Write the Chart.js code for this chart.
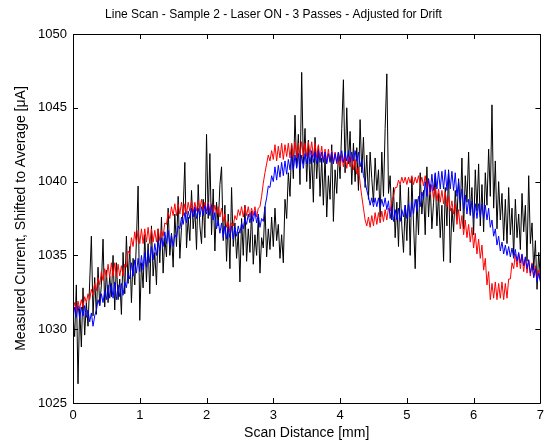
<!DOCTYPE html>
<html>
<head>
<meta charset="utf-8">
<script src="https://cdn.jsdelivr.net/npm/chart.js@4.4.0/dist/chart.umd.min.js"></script>
<style>
  body { margin: 0; background: #fff; }
  canvas { display: block; }
</style>
</head>
<body>
<canvas id="scan" width="549" height="442"></canvas>
<script>

// sample spacing along the scan (mm), same for all passes
var step = 0.025;

var xTicks = [0, 1, 2, 3, 4, 5, 6, 7];
var yTicks = [1025, 1030, 1035, 1040, 1045, 1050];

// pass 1 (black)
var black = [
  1031.0, 1029.5, 1033.0, 1026.3, 1031.5, 1028.8, 1032.8, 1029.6, 1031.8, 1030.2,
  1033.2, 1036.3, 1030.9, 1033.5, 1031.0, 1034.2, 1031.6, 1033.0, 1036.1, 1031.5,
  1034.0, 1031.8, 1033.6, 1032.2, 1035.0, 1031.3, 1034.5, 1032.0, 1033.4, 1031.0,
  1035.2, 1032.4, 1036.3, 1033.1, 1035.6, 1031.8, 1034.8, 1033.0, 1036.0, 1039.7,
  1030.6, 1034.5, 1032.8, 1036.4, 1033.2, 1035.8, 1032.4, 1037.0, 1033.6, 1035.2,
  1033.0, 1036.8, 1034.5, 1037.6, 1033.8, 1036.2, 1034.9, 1038.2, 1035.0, 1036.5,
  1034.2, 1037.8, 1035.6, 1039.0, 1034.8, 1036.9, 1038.1, 1041.3, 1035.5, 1037.6,
  1036.0, 1039.4, 1036.8, 1038.2, 1035.4, 1039.8, 1037.0, 1035.8, 1038.8, 1036.2,
  1043.2, 1037.5, 1041.9, 1036.4, 1039.5, 1035.3, 1038.6, 1037.0, 1039.8, 1041.0,
  1036.0, 1038.4, 1034.6, 1037.8, 1034.1, 1039.6, 1035.6, 1037.2, 1034.8, 1036.6,
  1033.2, 1037.5, 1035.0, 1038.4, 1034.6, 1036.8, 1035.2, 1038.0, 1034.4, 1036.4,
  1035.0, 1037.6, 1033.8, 1036.2, 1035.5, 1038.3, 1034.9, 1036.8, 1035.4, 1037.6,
  1035.6, 1038.2, 1036.0, 1037.1, 1034.8, 1036.4, 1034.5, 1038.8, 1037.5, 1040.6,
  1039.0, 1042.5, 1040.2, 1044.5, 1041.0, 1043.2, 1039.8, 1047.4, 1041.2, 1043.6,
  1040.0, 1042.8, 1039.5, 1041.8, 1038.6, 1043.0, 1040.2, 1042.4, 1039.0, 1041.6,
  1038.4, 1041.8, 1037.6, 1040.4, 1038.8, 1042.5, 1037.3, 1040.8, 1039.2, 1042.0,
  1040.2, 1043.6, 1046.9, 1040.6, 1045.0, 1041.2, 1043.4, 1039.8, 1042.6, 1040.0,
  1042.3, 1039.4, 1044.2, 1040.6, 1043.0, 1039.6, 1041.8, 1038.8, 1042.0, 1040.2,
  1038.6, 1041.6, 1039.4, 1040.8, 1037.6, 1042.0, 1039.0, 1043.6, 1047.3, 1039.2,
  1040.4, 1037.4, 1039.6, 1036.2, 1038.6, 1035.6, 1039.8, 1037.0, 1035.2, 1038.4,
  1036.0, 1039.6, 1035.0, 1040.3, 1037.2, 1034.1, 1038.8, 1036.4, 1040.6, 1037.8,
  1039.4, 1036.4, 1041.0, 1037.6, 1039.8, 1036.8, 1038.6, 1040.5, 1037.0, 1039.2,
  1036.2, 1038.4, 1034.6, 1039.6, 1037.0, 1040.8, 1034.5, 1038.2, 1036.6, 1039.4,
  1037.4, 1040.2, 1038.0, 1041.6, 1036.8, 1040.4, 1038.6, 1042.0, 1037.8, 1039.6,
  1036.4, 1040.8, 1038.0, 1041.2, 1037.0, 1039.8, 1036.6, 1040.6, 1038.4, 1042.2,
  1039.0, 1045.2, 1038.2, 1041.4, 1036.8, 1040.0, 1037.4, 1039.2, 1036.0, 1038.8,
  1035.8, 1039.6, 1036.4, 1038.2, 1035.0, 1038.8, 1036.2, 1037.8, 1035.4, 1039.2,
  1036.6, 1038.4, 1034.6, 1040.4, 1035.8, 1037.2, 1034.0, 1036.0, 1032.7, 1035.2,
  1033.4
];

// pass 2 (red)
var red = [
  1031.3, 1031.8, 1031.2, 1031.9, 1031.4, 1032.0, 1031.5, 1032.2, 1031.8, 1032.4,
  1032.0, 1032.7, 1032.3, 1033.1, 1032.6, 1033.5, 1033.0, 1033.9, 1033.3, 1034.1,
  1033.5, 1034.4, 1033.5, 1034.5, 1033.6, 1034.5, 1033.5, 1034.4, 1033.6, 1034.3,
  1033.6, 1034.4, 1034.2, 1035.3, 1035.1, 1036.2, 1035.6, 1036.6, 1035.8, 1036.7,
  1035.8, 1036.8, 1035.8, 1036.8, 1035.9, 1036.9, 1035.8, 1036.8, 1035.9, 1036.7,
  1035.9, 1036.8, 1036.0, 1036.7, 1036.3, 1037.2, 1037.1, 1037.9, 1037.5, 1038.3,
  1037.7, 1038.5, 1037.7, 1038.5, 1037.8, 1038.6, 1037.7, 1038.5, 1037.8, 1038.6,
  1038.0, 1038.7, 1037.9, 1038.6, 1038.0, 1038.7, 1038.1, 1038.8, 1038.0, 1038.6,
  1038.0, 1038.6, 1038.0, 1038.5, 1037.9, 1038.4, 1037.8, 1038.3, 1037.6, 1038.2,
  1037.3, 1037.8, 1036.9, 1037.3, 1036.6, 1037.2, 1037.0, 1037.7, 1037.4, 1038.1,
  1037.7, 1038.3, 1037.6, 1038.3, 1037.7, 1038.3, 1037.6, 1038.2, 1037.7, 1038.3,
  1037.6, 1038.2, 1038.3, 1039.0, 1039.9, 1040.6, 1041.2, 1041.8, 1041.4, 1042.1,
  1041.5, 1042.5, 1041.4, 1042.4, 1041.6, 1042.6, 1041.5, 1042.5, 1041.7, 1042.6,
  1041.6, 1042.6, 1041.7, 1042.7, 1041.6, 1042.6, 1041.8, 1042.7, 1041.7, 1042.6,
  1041.7, 1042.7, 1041.8, 1042.7, 1041.7, 1042.6, 1041.6, 1042.5, 1041.5, 1042.4,
  1041.4, 1042.2, 1041.3, 1042.2, 1041.4, 1042.1, 1041.3, 1042.0, 1041.2, 1042.0,
  1041.0, 1041.8, 1041.0, 1041.8, 1040.9, 1041.7, 1041.0, 1041.7, 1040.8, 1041.5,
  1040.5, 1041.0, 1039.9, 1039.0, 1038.2, 1037.4, 1037.0, 1037.6, 1036.9, 1037.7,
  1037.0, 1037.9, 1037.1, 1037.9, 1037.2, 1038.0, 1037.3, 1038.1, 1037.4, 1038.2,
  1038.0, 1038.7, 1039.0, 1039.6, 1039.6, 1040.1, 1039.8, 1040.3, 1039.9, 1040.3,
  1039.8, 1040.3, 1039.9, 1040.4, 1039.8, 1040.3, 1039.9, 1040.4, 1039.8, 1040.3,
  1039.7, 1040.4, 1039.5, 1040.2, 1039.1, 1039.8, 1038.8, 1039.6, 1038.7, 1039.5,
  1038.6, 1039.4, 1038.5, 1039.3, 1038.3, 1039.0, 1038.0, 1038.7, 1037.8, 1038.5,
  1037.1, 1038.1, 1036.8, 1037.7, 1036.4, 1037.4, 1036.2, 1037.1, 1035.9, 1036.9,
  1035.5, 1036.5, 1035.1, 1036.1, 1034.8, 1035.7, 1034.0, 1034.8, 1033.0, 1033.9,
  1032.0, 1033.1, 1032.1, 1033.2, 1032.0, 1033.1, 1032.1, 1033.2, 1032.0, 1033.1,
  1032.1, 1033.4, 1033.4, 1034.5, 1034.1, 1035.1, 1034.2, 1035.1, 1034.1, 1035.0,
  1033.9, 1034.9, 1033.8, 1034.7, 1033.6, 1034.5, 1033.5, 1034.3, 1033.3, 1034.0,
  1033.3
];

// pass 3 (blue)
var blue = [
  1030.7, 1031.5, 1030.8, 1031.6, 1030.7, 1031.5, 1030.9, 1031.6, 1030.8, 1031.3,
  1030.5, 1031.1, 1030.2, 1030.9, 1031.3, 1032.0, 1031.6, 1032.4, 1031.8, 1032.6,
  1032.0, 1033.0, 1032.1, 1033.1, 1032.1, 1033.2, 1032.0, 1033.0, 1032.2, 1033.1,
  1032.3, 1033.2, 1032.8, 1033.8, 1033.4, 1034.5, 1033.6, 1034.7, 1033.8, 1034.8,
  1033.9, 1035.0, 1034.0, 1035.2, 1034.2, 1035.4, 1034.5, 1035.6, 1034.7, 1035.8,
  1035.0, 1036.0, 1035.3, 1036.2, 1035.6, 1036.6, 1035.8, 1036.7, 1035.6, 1036.4,
  1035.6, 1036.4, 1036.2, 1037.0, 1036.8, 1037.6, 1037.1, 1037.9, 1037.2, 1038.0,
  1037.5, 1038.2, 1037.6, 1038.3, 1037.5, 1038.2, 1037.6, 1038.3, 1037.7, 1038.4,
  1037.8, 1038.5, 1037.7, 1038.4, 1037.4, 1037.9, 1036.8, 1037.4, 1036.5, 1037.2,
  1036.2, 1037.0, 1036.1, 1036.9, 1036.2, 1037.0, 1036.1, 1036.9, 1036.3, 1037.0,
  1036.5, 1037.2, 1036.8, 1037.5, 1037.1, 1037.8, 1037.2, 1037.9, 1037.3, 1038.0,
  1037.2, 1037.8, 1036.9, 1037.5, 1037.3, 1038.3, 1038.9, 1039.7, 1039.6, 1040.4,
  1040.0, 1041.0, 1040.1, 1041.1, 1040.3, 1041.3, 1040.4, 1041.4, 1040.5, 1041.5,
  1040.8, 1041.8, 1040.8, 1041.8, 1040.9, 1041.9, 1040.8, 1041.8, 1040.9, 1041.9,
  1041.2, 1042.0, 1041.2, 1042.1, 1041.3, 1042.0, 1041.2, 1042.1, 1041.3, 1042.0,
  1041.3, 1042.0, 1041.2, 1041.9, 1041.3, 1042.0, 1041.2, 1041.9, 1041.3, 1042.0,
  1041.4, 1042.1, 1041.3, 1042.0, 1041.4, 1042.1, 1041.3, 1042.0, 1041.4, 1042.1,
  1041.4, 1042.0, 1041.0, 1041.5, 1040.4, 1040.0, 1039.4, 1039.0, 1038.4, 1038.9,
  1038.3, 1038.9, 1038.3, 1038.9, 1038.2, 1038.8, 1038.3, 1038.9, 1038.1, 1038.7,
  1037.5, 1038.3, 1037.3, 1038.1, 1037.4, 1038.2, 1037.3, 1038.1, 1037.6, 1038.4,
  1037.5, 1038.5, 1037.6, 1038.6, 1037.8, 1038.8, 1038.0, 1039.0, 1038.3, 1039.3,
  1038.8, 1040.0, 1039.0, 1040.2, 1039.3, 1040.5, 1039.4, 1040.6, 1039.5, 1040.7,
  1039.5, 1040.7, 1039.5, 1040.8, 1039.4, 1040.7, 1039.5, 1040.7, 1039.4, 1040.6,
  1039.0, 1040.0, 1038.6, 1039.5, 1038.1, 1039.1, 1037.8, 1038.8, 1037.7, 1038.7,
  1037.5, 1038.5, 1037.5, 1038.5, 1037.6, 1038.5, 1037.5, 1038.4, 1037.4, 1038.2,
  1036.9, 1037.4, 1036.3, 1036.8, 1035.7, 1036.3, 1035.3, 1035.9, 1035.1, 1035.7,
  1035.0, 1035.6, 1034.9, 1035.5, 1034.8, 1035.4, 1034.6, 1035.2, 1034.5, 1035.1,
  1034.3, 1034.9, 1034.1, 1034.7, 1033.8, 1034.4, 1033.5, 1034.1, 1033.2, 1033.8,
  1033.2
];

function toPoints(vals) {
  var pts = [];
  for (var i = 0; i < vals.length; i++) {
    pts.push({x: +(i * step).toFixed(3), y: vals[i]});
  }
  return pts;
}

var font = "'Liberation Sans', Arial, Helvetica, sans-serif";

// matlab style box with inward ticks on all four sides
var boxTicks = {
  id: 'boxTicks',
  afterDraw: function(chart) {
    var ctx = chart.ctx;
    var a = chart.chartArea;
    var xs = chart.scales.x, ys = chart.scales.y;
    var len = 5;
    ctx.save();
    ctx.strokeStyle = '#000';
    ctx.lineWidth = 1;
    ctx.beginPath();
    ctx.rect(Math.round(a.left) + 0.5, Math.round(a.top) + 0.5,
             Math.round(a.right - a.left), Math.round(a.bottom - a.top));
    xTicks.forEach(function(t) {
      var px = Math.round(xs.getPixelForValue(t)) + 0.5;
      ctx.moveTo(px, a.bottom); ctx.lineTo(px, a.bottom - len);
      ctx.moveTo(px, a.top); ctx.lineTo(px, a.top + len);
    });
    yTicks.forEach(function(t) {
      var py = Math.round(ys.getPixelForValue(t)) + 0.5;
      ctx.moveTo(a.left, py); ctx.lineTo(a.left + len, py);
      ctx.moveTo(a.right, py); ctx.lineTo(a.right - len, py);
    });
    ctx.stroke();
    ctx.restore();
  }
};

var ctx = document.getElementById("scan");

new Chart(ctx, {
  type: 'line',
  data: {
    datasets: [
      {label: 'Pass 3', data: toPoints(blue), borderColor: '#0000ff'},
      {label: 'Pass 2', data: toPoints(red), borderColor: '#ff0000'},
      {label: 'Pass 1', data: toPoints(black), borderColor: '#000000'}
    ]
  },
  options: {
    responsive: false,
    animation: false,
    parsing: false,
    layout: { padding: { left: 0, right: 2, top: 0, bottom: 0 } },
    elements: {
      line: { borderWidth: 1, tension: 0 },
      point: { radius: 0 }
    },
    plugins: {
      legend: { display: false },
      tooltip: { enabled: false },
      title: {
        display: true,
        text: 'Line Scan - Sample 2 - Laser ON - 3 Passes - Adjusted for Drift',
        color: '#000',
        font: { family: font, size: 12, weight: 'normal' },
        padding: { top: 7, bottom: 12.6 }
      }
    },
    scales: {
      x: {
        type: 'linear',
        min: 0, max: 7,
        afterFit: function(s) { s.height = 39; },
        afterBuildTicks: function(s) { s.ticks = xTicks.map(function(v) { return {value: v}; }); },
        grid: { display: false, drawTicks: false },
        border: { display: false },
        ticks: {
          color: '#000', padding: 5, maxRotation: 0,
          font: { family: font, size: 13 },
          callback: function(v) { return String(v); }
        },
        title: {
          display: true,
          text: 'Scan Distance [mm]',
          color: '#000',
          font: { family: font, size: 14 },
          padding: { top: 0, bottom: 0 }
        }
      },
      y: {
        type: 'linear',
        min: 1025, max: 1050,
        afterFit: function(s) { s.width = 73; },
        afterBuildTicks: function(s) { s.ticks = yTicks.map(function(v) { return {value: v}; }); },
        grid: { display: false, drawTicks: false },
        border: { display: false },
        ticks: {
          color: '#000', padding: 6,
          font: { family: font, size: 13 },
          callback: function(v) { return String(v); }
        },
        title: {
          display: true,
          text: 'Measured Current, Shifted to Average [\u03bcA]',
          color: '#000',
          font: { family: font, size: 14 },
          padding: { top: 12.6, bottom: 0 }
        }
      }
    }
  },
  plugins: [boxTicks]
});

</script>
</body>
</html>
